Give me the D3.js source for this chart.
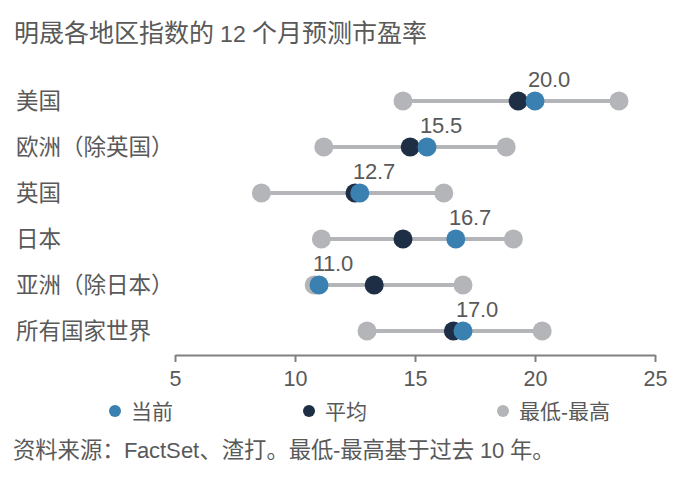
<!DOCTYPE html>
<html>
<head>
<meta charset="utf-8">
<script src="https://cdn.jsdelivr.net/npm/d3@7"></script>
<style>
  @font-face { font-family: "LatinPart"; src: local("Liberation Sans"); unicode-range: U+0000-024F; }
  body { margin: 0; background: #fff; }
  text { font-family: "LatinPart", "Noto Sans CJK SC", sans-serif; fill: #595959; }
</style>
</head>
<body>
<div id="chart"></div>
<script>
const regions = ["美国", "欧洲（除英国）", "英国", "日本", "亚洲（除日本）", "所有国家世界"];
const current = [20.0, 15.5, 12.7, 16.7, 11.0, 17.0];
const average = [19.3, 14.8, 12.5, 14.5, 13.3, 16.6];
const low = [14.5, 11.2, 8.6, 11.1, 10.8, 13.0];
const high = [23.5, 18.8, 16.2, 19.1, 17.0, 20.3];
const xTicks = [5, 10, 15, 20, 25];
const legendItems = ["当前", "平均", "最低-最高"];

const W = 676, H = 486;
const colCurrent = "#3a80b1", colAvg = "#1d2e45", colRange = "#b4b5b9";

const data = regions.map((r, i) => ({ region: r, cur: current[i], avg: average[i], lo: low[i], hi: high[i] }));

const svg = d3.select("#chart").append("svg").attr("width", W).attr("height", H);

const x = d3.scaleLinear().domain([5, 25]).range([175, 655]);
const y = d3.scalePoint().domain(regions).range([101, 331]);

// title: the number is set a bit smaller than the Chinese glyphs
const title = svg.append("text").attr("x", 14).attr("y", 42).style("font-size", "25px");
title.append("tspan").text("明晟各地区指数的");
title.append("tspan").style("font-size", "23px").text(" 12 ");
title.append("tspan").text("个月预测市盈率");

// axis
const axis = svg.append("g").attr("transform", "translate(0,355)")
  .call(d3.axisBottom(x).tickValues(xTicks).tickSize(7).tickPadding(9).tickSizeOuter(0));
axis.select(".domain").attr("stroke", "#808080").attr("stroke-width", 2);
axis.selectAll(".tick line").attr("stroke", "#808080").attr("stroke-width", 2);
axis.selectAll(".tick text").style("font-size", "21.5px").style("fill", "#595959")
  .style("font-family", "'Liberation Sans', sans-serif");

svg.append("g").selectAll("text").data(data).join("text")
  .attr("x", 16).attr("y", d => y(d.region)).attr("dy", "0.36em")
  .style("font-size", "22.5px").text(d => d.region);

const rows = svg.append("g").selectAll("g").data(data).join("g")
  .attr("transform", d => `translate(0,${y(d.region)})`);

rows.append("line")
  .attr("x1", d => x(d.lo)).attr("x2", d => x(d.hi))
  .attr("stroke", colRange).attr("stroke-width", 4);
rows.append("circle").attr("cx", d => x(d.lo)).attr("r", 9.5).attr("fill", colRange);
rows.append("circle").attr("cx", d => x(d.hi)).attr("r", 9.5).attr("fill", colRange);
rows.append("circle").attr("cx", d => x(d.avg)).attr("r", 9.5).attr("fill", colAvg);
rows.append("circle").attr("cx", d => x(d.cur)).attr("r", 9.5).attr("fill", colCurrent);
rows.append("text")
  .attr("x", d => x(d.cur) + 14).attr("y", -14)
  .attr("text-anchor", "middle").style("font-size", "22px")
  .text(d => d.cur.toFixed(1));

// legend
const legendColors = [colCurrent, colAvg, colRange];
const legend = svg.append("g").selectAll("g").data(legendItems).join("g")
  .attr("transform", (d, i) => `translate(${115 + i * 194},411)`);
legend.append("circle").attr("r", 6).attr("fill", (d, i) => legendColors[i]);
legend.append("text").attr("x", 16).attr("dy", "0.36em")
  .style("font-size", "21px").text(d => d);

svg.append("text").attr("x", 13).attr("y", 458)
  .style("font-size", "22.3px").text("资料来源：FactSet、渣打。最低-最高基于过去 10 年。");
</script>
</body>
</html>
